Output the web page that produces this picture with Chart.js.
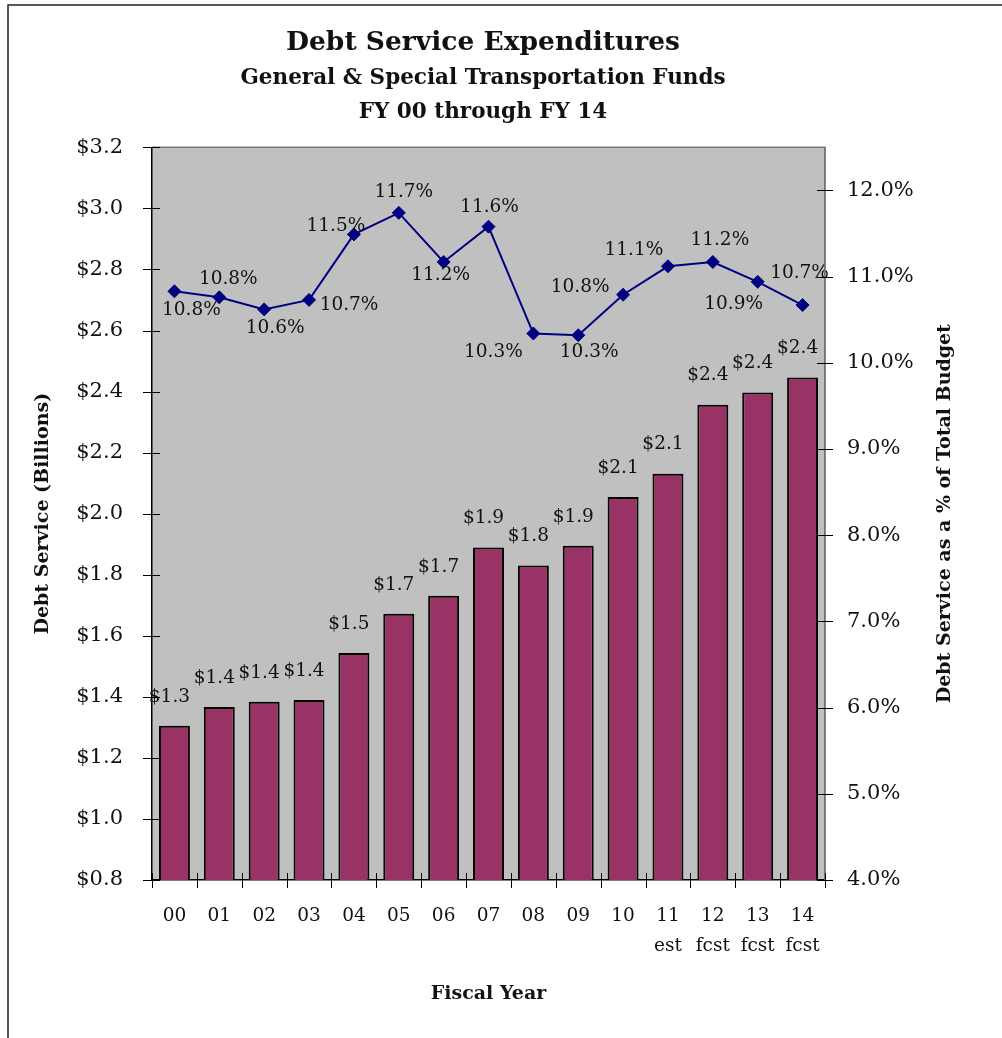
<!DOCTYPE html>
<html>
<head>
<meta charset="utf-8">
<script src="https://cdn.jsdelivr.net/npm/chart.js@4"></script>
<style>
html,body{margin:0;padding:0;background:#fff;}
#wrap{width:1002px;height:1038px;}
</style>
</head>
<body>
<div id="wrap"><canvas id="c" width="1002" height="1038"></canvas></div>
<script>
// ---- data ----
const categories = ['00','01','02','03','04','05','06','07','08','09','10','11','12','13','14'];
const categoryNotes = ['','','','','','','','','','','','est','fcst','fcst','fcst'];
const debtServiceBillions = [1.305,1.367,1.384,1.390,1.544,1.672,1.731,1.889,1.830,1.895,2.055,2.131,2.357,2.397,2.446];
const pctOfTotalBudget = [10.83,10.76,10.62,10.73,11.49,11.74,11.17,11.58,10.34,10.32,10.79,11.12,11.17,10.94,10.67];
const titleText = 'Debt Service Expenditures';
const subtitleLines = ['General & Special Transportation Funds','FY 00 through FY 14'];
const leftAxisTitle = 'Debt Service (Billions)';
const rightAxisTitle = 'Debt Service as a % of Total Budget';
const xAxisTitle = 'Fiscal Year';

const labels = categories.map((c,i)=> categoryNotes[i] ? [c, categoryNotes[i]] : c);

const SERIF = '"DejaVu Serif", "Liberation Serif", serif';
const TXT = '#111';

// label placement relative to each line point (style only)
const lineLabelOffsets = [[17,19],[9,-18],[11,19],[40,5],[-18,-8],[5,-21],[-3,13],[1,-19],[-40,19],[11,17],[-43,-8],[-34,-16],[7,-22],[-24,22],[-3,-32]];

const framePlugin = {
  id:'frame',
  beforeDraw(chart){
    const {ctx, chartArea:a} = chart;
    ctx.save();
    ctx.fillStyle = '#C0C0C0';
    ctx.fillRect(a.left, a.top, a.right-a.left, a.bottom-a.top);
    ctx.strokeStyle = '#222';
    ctx.lineWidth = 1.5;
    ctx.beginPath();
    ctx.moveTo(8, 1038); ctx.lineTo(8, 5); ctx.lineTo(1002, 5);
    ctx.stroke();
    ctx.restore();
  },
  afterDraw(chart){
    const {ctx, chartArea:a, scales} = chart;
    const {x, y, y1} = scales;
    ctx.save();
    // plot top/right border
    ctx.strokeStyle = '#777';
    ctx.lineWidth = 1.5;
    ctx.beginPath();
    ctx.moveTo(a.left, a.top); ctx.lineTo(a.right, a.top); ctx.lineTo(a.right, a.bottom);
    ctx.stroke();
    // crossing ticks
    ctx.strokeStyle = '#000';
    ctx.lineWidth = 1;
    ctx.beginPath();
    y.ticks.forEach(t=>{
      const py = Math.round(y.getPixelForValue(t.value))+0.5;
      ctx.moveTo(a.left-9, py); ctx.lineTo(a.left+8, py);
    });
    y1.ticks.forEach(t=>{
      const py = Math.round(y1.getPixelForValue(t.value))+0.5;
      ctx.moveTo(a.right-8, py); ctx.lineTo(a.right+8, py);
    });
    const w = x.getPixelForValue(1) - x.getPixelForValue(0);
    for (let i=0;i<=categories.length;i++){
      const px = Math.round(x.getPixelForValue(i) - w/2)+0.5;
      ctx.moveTo(px, a.bottom-7); ctx.lineTo(px, a.bottom+8);
    }
    ctx.stroke();
    // right axis title, reading bottom-to-top
    ctx.fillStyle = TXT;
    ctx.font = 'bold 19px ' + SERIF;
    ctx.textAlign = 'center';
    ctx.textBaseline = 'middle';
    ctx.translate(945, (a.top + a.bottom)/2);
    ctx.rotate(-Math.PI/2);
    ctx.fillText(rightAxisTitle, 0, 0);
    ctx.restore();
  }
};

const dataLabelPlugin = {
  id:'dataLabels',
  afterDatasetsDraw(chart){
    const {ctx} = chart;
    ctx.save();
    ctx.font = '18.5px ' + SERIF;
    ctx.fillStyle = TXT;
    ctx.textAlign = 'center';
    ctx.textBaseline = 'middle';
    const barMeta = chart.getDatasetMeta(1);
    barMeta.data.forEach((el,i)=>{
      const v = chart.data.datasets[1].data[i];
      ctx.fillText('$' + v.toFixed(1), el.x - 5, el.y - 29);
    });
    const lineMeta = chart.getDatasetMeta(0);
    lineMeta.data.forEach((el,i)=>{
      const v = chart.data.datasets[0].data[i];
      const o = lineLabelOffsets[i];
      ctx.fillText(v.toFixed(1) + '%', el.x + o[0], el.y + o[1]);
    });
    ctx.restore();
  }
};

Chart.defaults.font.family = SERIF;
Chart.defaults.color = TXT;

new Chart(document.getElementById('c'), {
  data: {
    labels: labels,
    datasets: [
      {
        type:'line',
        label:'% of Total Budget',
        data: pctOfTotalBudget,
        yAxisID:'y1',
        borderColor:'#000080',
        backgroundColor:'#000080',
        borderWidth:2,
        pointStyle:'rectRot',
        pointRadius:6.5,
        pointBorderWidth:1,
        pointBorderColor:'#000080',
        pointBackgroundColor:'#000080',
        tension:0,
        order:0
      },
      {
        type:'bar',
        label:'Debt Service',
        data: debtServiceBillions,
        yAxisID:'y',
        backgroundColor:'#993366',
        borderColor:'#000',
        borderWidth:2,
        borderSkipped:false,
        barPercentage:0.69,
        categoryPercentage:1.0,
        order:1
      }
    ]
  },
  options: {
    responsive:false,
    animation:false,
    devicePixelRatio:1,
    layout:{padding:{left:0, right:36, top:0, bottom:0}},
    plugins:{
      legend:{display:false},
      tooltip:{enabled:false},
      title:{
        display:true,
        text:titleText,
        color:TXT,
        font:{family:SERIF, size:26.5, weight:'bold', lineHeight:1.2},
        padding:{top:27, bottom:0}
      },
      subtitle:{
        display:true,
        text:subtitleLines,
        color:TXT,
        font:{family:SERIF, size:21.5, weight:'bold', lineHeight:1.58},
        padding:{top:3, bottom:17.6}
      }
    },
    scales:{
      x:{
        type:'category',
        offset:true,
        grid:{display:false},
        border:{display:true, color:'#000', width:1.5},
        ticks:{font:{size:18.5, lineHeight:1.62}, color:TXT, padding:13, maxRotation:0, autoSkip:false},
        title:{display:true, text:xAxisTitle, color:TXT, font:{size:19, weight:'bold', lineHeight:1.2}, padding:{top:0,bottom:33}},
        afterFit(s){ s.height = 158; }
      },
      y:{
        type:'linear',
        position:'left',
        min:0.8, max:3.2,
        grid:{display:false},
        border:{display:true, color:'#000', width:1.5},
        ticks:{stepSize:0.2, font:{size:21}, color:TXT, padding:21, callback:v=>'$'+Number(v).toFixed(1)},
        title:{display:true, text:leftAxisTitle, color:TXT, font:{size:19, weight:'bold', lineHeight:1.2}, padding:{top:32,bottom:0}},
        afterFit(s){ s.width = 152; }
      },
      y1:{
        type:'linear',
        position:'right',
        min:4, max:12.5,
        grid:{display:false},
        border:{display:true, color:'#777', width:1.5},
        ticks:{stepSize:1, font:{size:21}, color:TXT, padding:14, callback:v=>Number(v).toFixed(1)+'%'},
        afterBuildTicks(s){ s.ticks = s.ticks.filter(t=>t.value<=12.0001); },
        title:{display:false},
        afterFit(s){ s.width = 141; }
      }
    }
  },
  plugins:[framePlugin, dataLabelPlugin]
});
</script>
</body>
</html>
